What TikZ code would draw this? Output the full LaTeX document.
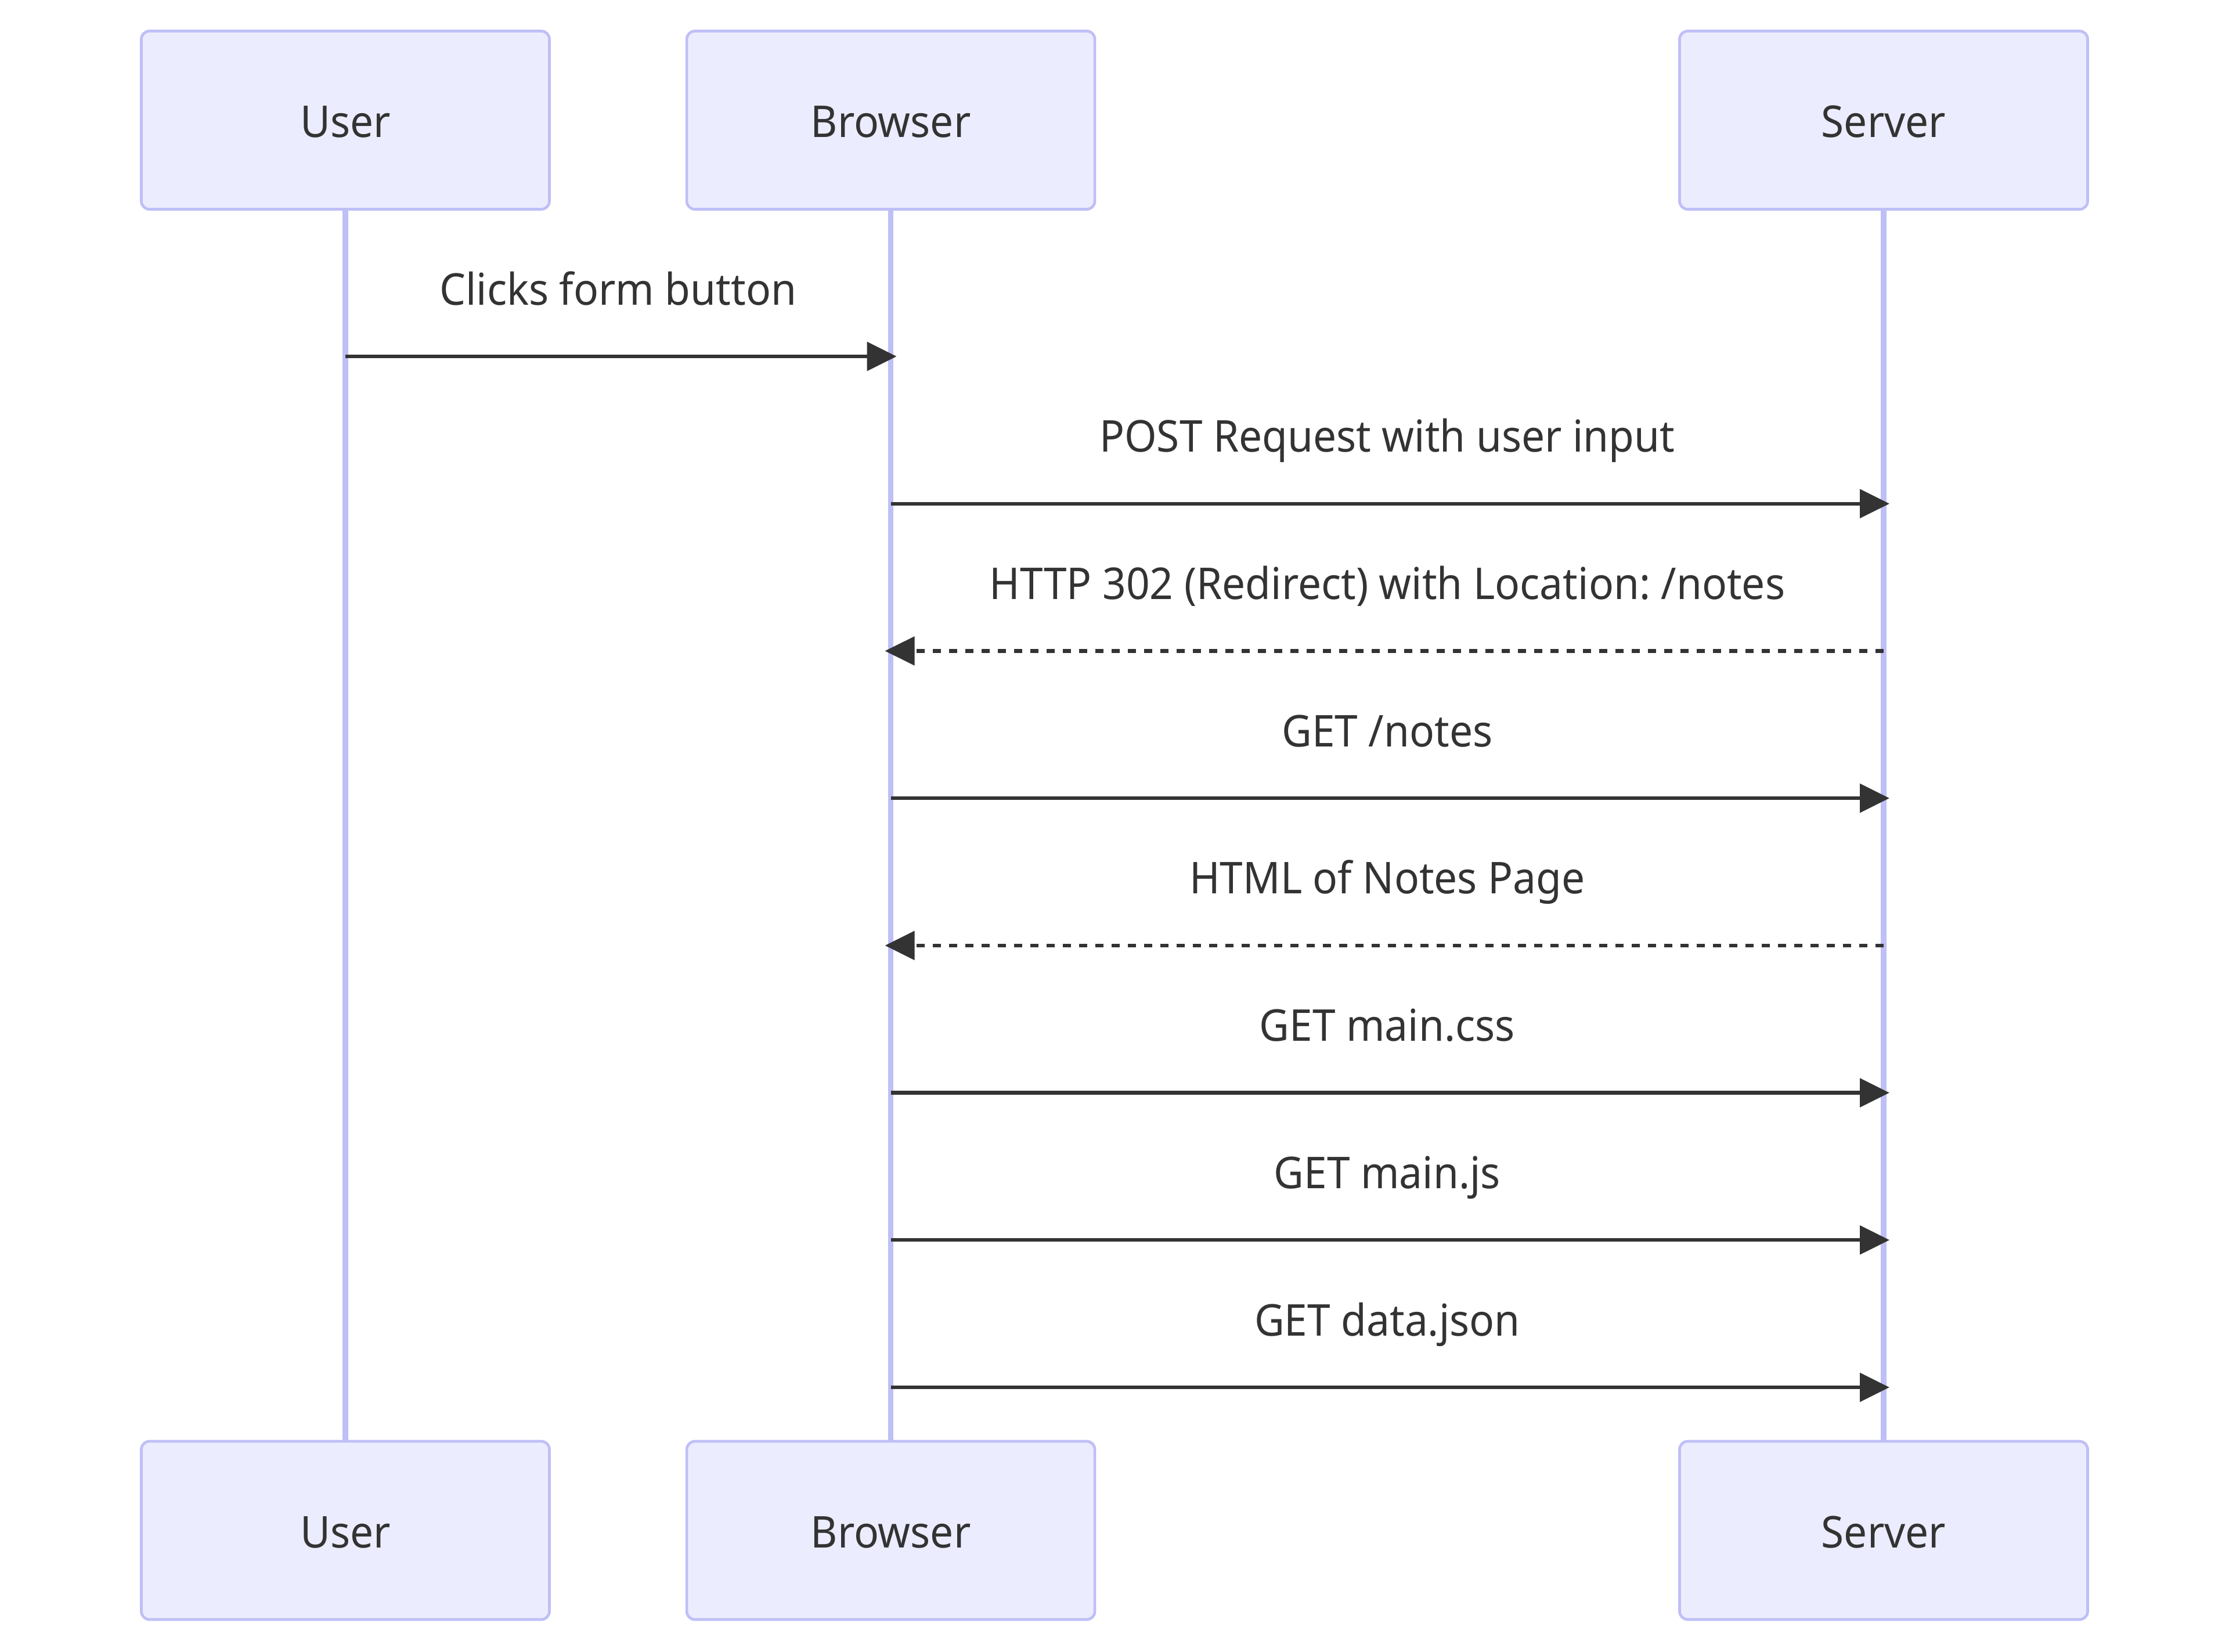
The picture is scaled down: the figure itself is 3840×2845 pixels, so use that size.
\documentclass[tikz,border=0pt]{standalone}
\usepackage{fontspec}
\setmainfont{Noto Sans}[FakeStretch=0.943]
\usetikzlibrary{arrows.meta}
\definecolor{actorfill}{HTML}{ECECFF}
\definecolor{actorline}{RGB}{191,191,247}
\definecolor{ink}{HTML}{333333}
\tikzset{
  actor/.style={draw=actorline, fill=actorfill, line width=0.94pt,
    rounded corners=2.8pt, minimum width=140.6pt, minimum height=61.4pt,
    inner sep=0pt, text height=11.8pt, text depth=0pt, text=ink,
    font=\fontsize{15.1pt}{18pt}\selectfont},
  lifeline/.style={draw=actorline, line width=1.86pt},
  msg/.style={draw=ink, line width=1.26pt,
    -{Triangle[length=10.2pt,width=9.8pt]}, shorten >=-2pt},
  reply/.style={msg, dash pattern=on 2.8pt off 2.8pt},
  msglabel/.style={anchor=base, text=ink, inner sep=0pt,
    font=\fontsize{15.1pt}{18pt}\selectfont}
}
\frenchspacing
\begin{document}
\begin{tikzpicture}[x=0.2pt,y=-0.2pt]
\path[use as bounding box, fill=white] (0,0) rectangle (3840,2845);
% actors top
\node[actor] (ut) at (595,207) {User};
\node[actor] (bt) at (1534.6,207) {Browser};
\node[actor] (st) at (3245,207) {Server};
% actors bottom
\node[actor] (ub) at (595,2636.5) {User};
\node[actor] (bb) at (1534.6,2636.5) {Browser};
\node[actor] (sb) at (3245,2636.5) {Server};
% lifelines
\draw[lifeline] (ut.south) -- (ub.north);
\draw[lifeline] (bt.south) -- (bb.north);
\draw[lifeline] (st.south) -- (sb.north);
% messages
\node[msglabel] (m1) at (1064.8,525) {Clicks form button};
\draw[msg] (ut.south |- 0,614) -- (bt.south |- 0,614);
\node[msglabel] (m2) at (2389.8,778.7) {POST Request with user input};
\draw[msg] (bt.south |- 0,867.7) -- (st.south |- 0,867.7);
\node[msglabel] (m3) at (2389.8,1032.4) {HTTP 302 (Redirect) with Location: /notes};
\draw[reply] (st.south |- 0,1121.4) -- (bt.south |- 0,1121.4);
\node[msglabel] (m4) at (2389.8,1286) {GET /notes};
\draw[msg] (bt.south |- 0,1375) -- (st.south |- 0,1375);
\node[msglabel] (m5) at (2389.8,1539.8) {HTML of Notes Page};
\draw[reply] (st.south |- 0,1628.8) -- (bt.south |- 0,1628.8);
\node[msglabel] (m6) at (2389.8,1793.5) {GET main.css};
\draw[msg] (bt.south |- 0,1882.5) -- (st.south |- 0,1882.5);
\node[msglabel] (m7) at (2389.8,2047.2) {GET main.js};
\draw[msg] (bt.south |- 0,2136.2) -- (st.south |- 0,2136.2);
\node[msglabel] (m8) at (2389.8,2301) {GET data.json};
\draw[msg] (bt.south |- 0,2390) -- (st.south |- 0,2390);
\end{tikzpicture}
\end{document}
